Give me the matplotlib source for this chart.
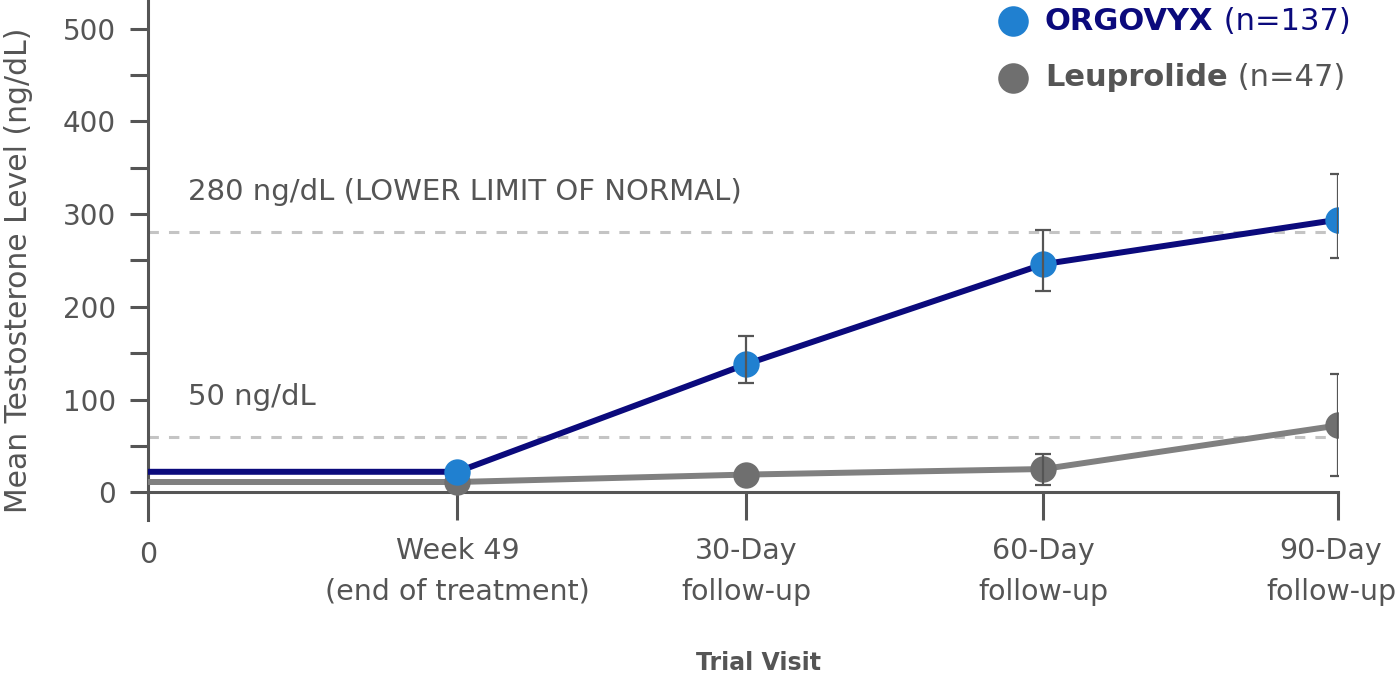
import numpy as np
import matplotlib

matplotlib.use("Agg")
import matplotlib.pyplot as plt  # noqa: E402
from matplotlib.ticker import MultipleLocator  # noqa: E402
from matplotlib.transforms import ScaledTranslation  # noqa: E402

# 数据 (从图上读出来的估计值)
visit_labels = ["0", "Week 49\n(end of treatment)", "30-Day\nfollow-up",
                "60-Day\nfollow-up", "90-Day\nfollow-up"]
visit_pos = [0.0, 1.04, 2.01, 3.01, 4.0]

orgovyx = [22, 22, 138, 246, 294]
orgovyx_lo = [np.nan, np.nan, 118, 217, 253]
orgovyx_hi = [np.nan, np.nan, 168, 283, 343]

leuprolide = [11, 11, 19, 25, 72]
leuprolide_lo = [np.nan, np.nan, np.nan, 8, 18]
leuprolide_hi = [np.nan, np.nan, np.nan, 41, 127]

ref_levels = [281, 60]
ref_labels = ["280 ng/dL (LOWER LIMIT OF NORMAL)", "50 ng/dL"]
ref_label_y = [324, 103]

series_names = ["ORGOVYX", "Leuprolide"]
series_n = ["(n=137)", "(n=47)"]

NAVY = "#0b0a7c"
BLUE = "#2080d0"
GRAY_LINE = "#808080"
GRAY_MK = "#6f6f6f"
TXT = "#555555"
FS = 20

plt.rcParams["font.family"] = ["DejaVu Sans"]

fig = plt.figure(figsize=(14, 6.77), dpi=100)
ax = fig.add_axes([148 / 1400, 1 - 520 / 677, (1338 - 148) / 1400, 520 / 677])
ax.set_xlim(0, 4)
ax.set_ylim(-30, 531)

# 参考虚线
for lv in ref_levels:
    ax.axhline(lv, color="#c4c4c4", lw=2.2, ls=(0, (3.4, 3.3)), zorder=1)
for txt, ty in zip(ref_labels, ref_label_y):
    ax.text(0.134, ty, txt, color=TXT, fontsize=21, va="center", ha="left")

# 折线
ax.plot(visit_pos, leuprolide, color=GRAY_LINE, lw=4.3, zorder=3,
        solid_capstyle="butt")
ax.plot(visit_pos, orgovyx, color=NAVY, lw=4.3, zorder=4,
        solid_capstyle="butt")
ax.plot(visit_pos[1:], leuprolide[1:], "o", color=GRAY_MK, ms=19, mew=0, zorder=5)
ax.plot(visit_pos[1:], orgovyx[1:], "o", color=BLUE, ms=19, mew=0, zorder=6)

# 误差线
for vals, lo, hi in [(orgovyx, orgovyx_lo, orgovyx_hi),
                     (leuprolide, leuprolide_lo, leuprolide_hi)]:
    vals = np.array(vals, float)
    lo = np.array(lo, float)
    hi = np.array(hi, float)
    m = ~np.isnan(lo)
    ax.errorbar(np.array(visit_pos)[m], vals[m],
                yerr=[vals[m] - lo[m], hi[m] - vals[m]],
                fmt="none", ecolor=TXT, elinewidth=1.6, capsize=6,
                capthick=1.6, zorder=7)

# 坐标轴样式
for s in ["top", "right"]:
    ax.spines[s].set_visible(False)
ax.spines["bottom"].set_position(("data", 0))
for s in ["left", "bottom"]:
    ax.spines[s].set_color(TXT)
    ax.spines[s].set_linewidth(2.2)

ax.set_yticks([0, 100, 200, 300, 400, 500])
ax.yaxis.set_minor_locator(MultipleLocator(50))
ax.tick_params(axis="y", which="both", length=13, width=2.2, color=TXT,
               labelcolor=TXT, labelsize=FS, pad=10)
ax.set_xticks(visit_pos[1:])
ax.set_xticklabels(visit_labels[1:], linespacing=1.6)
ax.tick_params(axis="x", length=20, width=2.2, color=TXT, labelcolor=TXT,
               labelsize=20.5, pad=12)
# 最右边的标签往左挪一点, 免得被裁掉
last = ax.get_xticklabels()[-1]
last.set_transform(last.get_transform()
                   + ScaledTranslation(-5 / 72, 0, fig.dpi_scale_trans))
# 左下角的 "0"
ax.text(0, -53, visit_labels[0], color=TXT, fontsize=20.5, ha="center",
        va="top")

ax.set_ylabel("Mean Testosterone Level (ng/dL)", color=TXT, fontsize=21.5)
ax.yaxis.set_label_coords(-0.097, 0.48)

fig.text(759 / 1400, 1 - 663 / 677, "Trial Visit", color=TXT, fontsize=17,
         fontweight="bold", ha="center", va="center")

# 图例 (手画)
leg_colors = [BLUE, GRAY_MK]
leg_txt = [NAVY, TXT]
leg_y = [1 - 21 / 677, 1 - 78 / 677]
for name, n, c, tc, yy in zip(series_names, series_n, leg_colors, leg_txt, leg_y):
    fig.lines.append(plt.Line2D([1013 / 1400], [yy], marker="o", ms=22,
                                color=c, mew=0, transform=fig.transFigure))
    t = fig.text(1045 / 1400, yy, name, color=tc, fontsize=22,
                 fontweight="bold", ha="left", va="center")
    ax.annotate(" " + n, xy=(1, 0.5), xycoords=t, color=tc, fontsize=22,
                ha="left", va="center", annotation_clip=False)

fig.savefig("out.png", dpi=100)
